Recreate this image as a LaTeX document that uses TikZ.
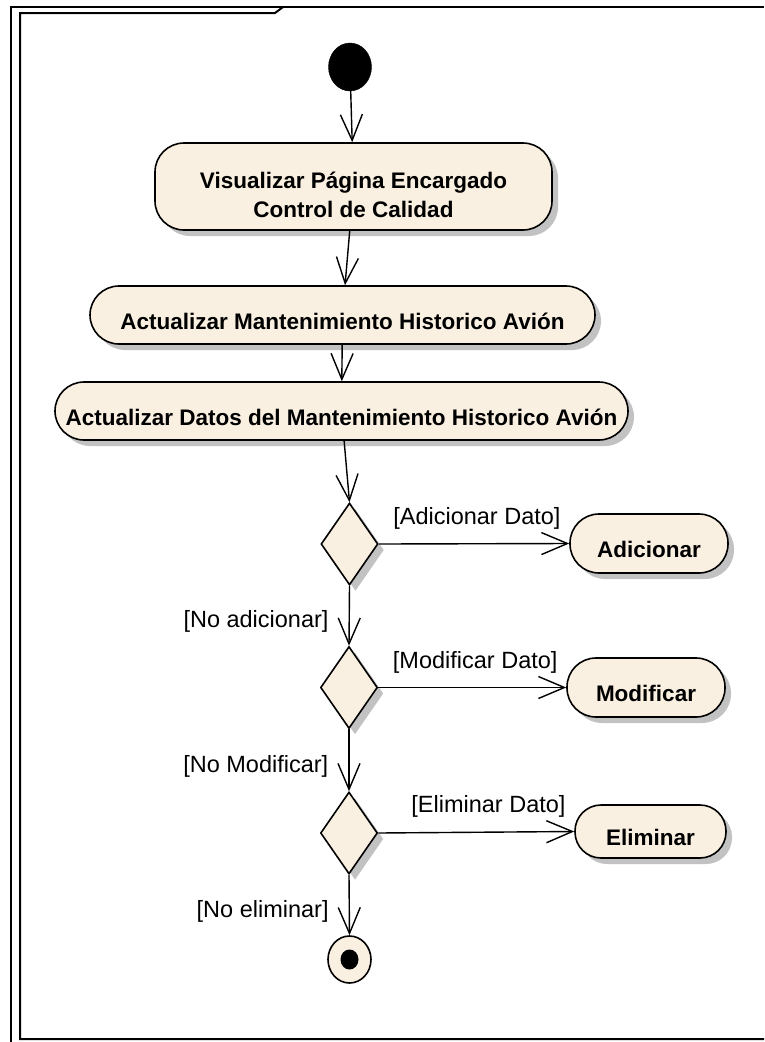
\documentclass[tikz,border=0pt]{standalone}
\usepackage{fontspec}
\setmainfont{Liberation Sans}
\usepackage{tikz}
\usetikzlibrary{shapes.geometric,arrows.meta,positioning,shadows}
\definecolor{actfill}{HTML}{FAF0E1}
\definecolor{shadowgray}{HTML}{C2C2C2}

\begin{document}
\begin{tikzpicture}[
    x=1pt, y=-1pt,
    umlshadow/.style={drop shadow={shadow xshift=6pt, shadow yshift=-6pt, fill=shadowgray, opacity=1}},
    actbox/.style={rectangle, rounded corners=29pt, draw=black, line width=1.6pt, fill=actfill, inner sep=0pt, align=center, font=\fontsize{22.5}{29}\selectfont\bfseries, umlshadow},
    onerow/.style={text height=28pt, text depth=0pt},
    decision/.style={diamond, draw=black, line width=1.6pt, fill=actfill, inner sep=0pt, minimum width=57pt, minimum height=82pt, umlshadow},
    flow/.style={-{Straight Barb[length=26pt, width=22pt]}, line width=1.4pt},
    guard/.style={font=\fontsize{23.5}{28}\selectfont, inner sep=0pt},
    guardtop/.style={guard, pos=1, anchor=south east, xshift=-8pt, yshift=13pt},
    guardleft/.style={guard, pos=0.6, anchor=east, xshift=-20pt}
]
    \useasboundingbox (0,0) rectangle (764,1042);

    % --- DIAGRAM FRAME ---
    \draw[line width=2pt] (11,1042) -- (11,7) -- (764,7);
    \draw[line width=2pt] (764,1039) -- (20,1039) -- (20,13) -- (275,13) -- (283,7);

    % --- MAIN FLOW ---
    \node[ellipse, draw=black, fill=black, inner sep=0pt, minimum width=43pt, minimum height=48pt] (start) at (350,67) {};

    \node[actbox, minimum width=397pt, minimum height=87pt] (vis) at (353.5,186.5) {\rule{0pt}{34pt}Visualizar Página Encargado\\Control de Calidad};
    \node[actbox, onerow, minimum width=505pt, minimum height=58pt] (act) at (342.5,315) {Actualizar Mantenimiento Historico Avión};
    \node[actbox, onerow, minimum width=573pt, minimum height=58pt] (dat) at (341.5,411) {Actualizar Datos del Mantenimiento Historico Avión};

    \draw[flow] (start) -- (vis);
    \draw[flow] (vis) -- (act);
    \draw[flow] (act) -- (dat);

    % --- DECISIONS ---
    \node[decision] (d1) at (349.5,544) {};
    \node[decision] (d2) at (349,687.5) {};
    \node[decision] (d3) at (349,833) {};

    \node[actbox, onerow, minimum width=158pt, minimum height=59pt] (add) at (649,543.5) {Adicionar};
    \node[actbox, onerow, minimum width=158pt, minimum height=59pt] (mod) at (646,687.5) {Modificar};
    \node[actbox, onerow, minimum width=151pt, minimum height=53pt, rounded corners=26pt] (eli) at (650.5,831.5) {Eliminar};

    \draw[flow] (dat) -- (d1.north);
    \draw[flow] (d1.east) -- (add.west) node[guardtop] {[Adicionar Dato]};
    \draw[flow] (d2.east) -- (mod.west) node[guardtop] {[Modificar Dato]};
    \draw[flow] (d3.east) -- (eli.west) node[guardtop] {[Eliminar Dato]};

    \draw[flow] (d1.south) -- (d2.north) node[guardleft] {[No adicionar]};
    \draw[flow] (d2.south) -- (d3.north) node[guardleft] {[No Modificar]};

    % --- FINAL NODE ---
    \node[ellipse, draw=black, line width=1.6pt, fill=actfill, inner sep=0pt, minimum width=43pt, minimum height=47pt] (stop) at (349.5,959.5) {};
    \node[ellipse, fill=black, inner sep=0pt, minimum width=18pt, minimum height=20pt] (stopdot) at (stop.center) {};

    \draw[flow] (d3.south) -- (stop.north) node[guardleft] {[No eliminar]};
\end{tikzpicture}
\end{document}
